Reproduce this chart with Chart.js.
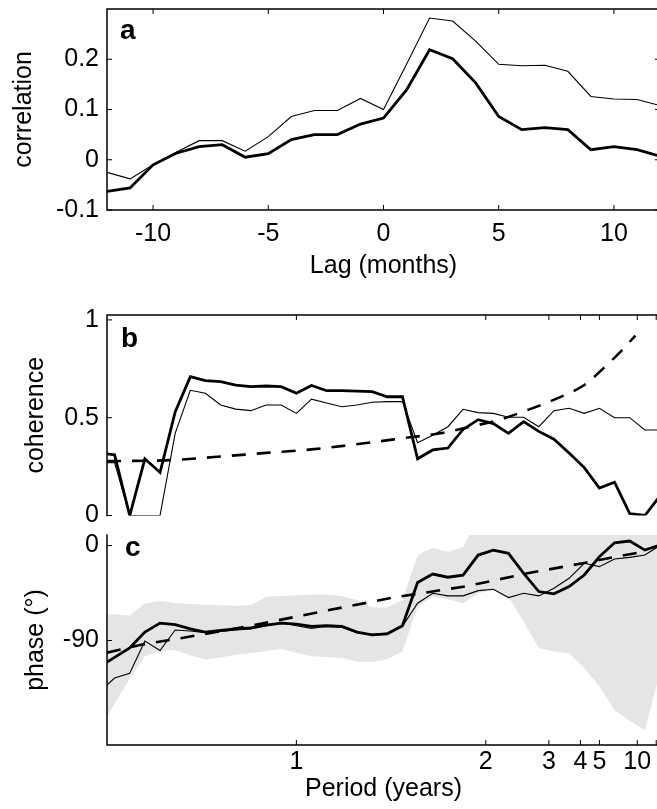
<!DOCTYPE html>
<html>
<head>
<meta charset="utf-8">
<script src="https://cdn.jsdelivr.net/npm/chart.js@4.4.1/dist/chart.umd.min.js"></script>
<style>
  html, body { margin: 0; padding: 0; background: #fff; overflow: hidden; }
  #wrap { position: relative; width: 657px; height: 809px; overflow: hidden; }
  .panel { position: absolute; left: 0; }
  .tag { position: absolute; font: bold 28px "Liberation Sans", Arial, sans-serif; line-height: 28px; color: #000; }
</style>
</head>
<body>
<div id="wrap">
  <canvas class="panel" id="chartA" width="660" height="290" style="top:0px"></canvas>
  <canvas class="panel" id="chartB" width="660" height="250" style="top:285px"></canvas>
  <canvas class="panel" id="chartC" width="660" height="299" style="top:510px"></canvas>
  <div class="tag" style="left:120px;top:16px">a</div>
  <div class="tag" style="left:121px;top:324px">b</div>
  <div class="tag" style="left:125px;top:533px">c</div>
</div>
<script>
// panel a: lagged correlation
const lags = [-12, -11, -10, -9, -8, -7, -6, -5, -4, -3, -2, -1, 0, 1, 2, 3, 4, 5, 6, 7, 8, 9, 10, 11, 12];
const corrThin = [-0.025, -0.038, -0.01, 0.015, 0.038, 0.038, 0.017, 0.046, 0.086, 0.098, 0.098, 0.122, 0.1,
                  0.19, 0.282, 0.276, 0.236, 0.19, 0.187, 0.188, 0.176, 0.126, 0.121, 0.12, 0.108];
const corrThick = [-0.063, -0.056, -0.01, 0.013, 0.026, 0.03, 0.005, 0.012, 0.04, 0.05, 0.05, 0.071, 0.083,
                   0.139, 0.219, 0.201, 0.153, 0.086, 0.06, 0.064, 0.06, 0.02, 0.026, 0.02, 0.007];
const lagTicks = [-10, -5, 0, 5, 10];
const corrTicks = [-0.1, 0, 0.1, 0.2];

// panels b and c: frequency (cycles per year), left to right
const freq = [1.52, 1.48, 1.44, 1.40, 1.36, 1.32, 1.28, 1.24, 1.20, 1.16, 1.12, 1.08, 1.04, 1.00,
              0.96, 0.92, 0.88, 0.84, 0.80, 0.76, 0.72, 0.68, 0.64, 0.60, 0.56, 0.52, 0.48, 0.44,
              0.40, 0.36, 0.32, 0.28, 0.24, 0.20, 0.16, 0.12, 0.08, 0.04];
const cohThick = [0.32, 0.31, 0.0, 0.29, 0.22, 0.53, 0.71, 0.69, 0.684, 0.667, 0.659, 0.662, 0.659, 0.625,
                  0.665, 0.638, 0.638, 0.636, 0.633, 0.607, 0.607, 0.29, 0.335, 0.345, 0.44, 0.49, 0.47, 0.42,
                  0.48, 0.43, 0.39, 0.32, 0.245, 0.14, 0.17, 0.01, 0.0, 0.10];
const cohThin = [0.27, 0.27, 0, 0, 0, 0.42, 0.64, 0.625, 0.565, 0.544, 0.536, 0.565, 0.565, 0.522,
                 0.595, 0.575, 0.556, 0.565, 0.579, 0.582, 0.582, 0.372, 0.41, 0.454, 0.543, 0.526, 0.522, 0.502,
                 0.502, 0.454, 0.536, 0.548, 0.522, 0.548, 0.50, 0.50, 0.437, 0.437];
const cohSigFreq = [1.5, 1.33, 1.21, 1.08, 0.96, 0.81, 0.70, 0.62, 0.54, 0.46, 0.39, 0.31, 0.24, 0.18, 0.14, 0.105];
const cohSig = [0.278, 0.283, 0.30, 0.32, 0.338, 0.372, 0.40, 0.42, 0.454, 0.492, 0.539, 0.60, 0.667, 0.77, 0.845, 0.92];

const phaseThick = [-115, -106, -97, -82, -73.5, -75, -79, -82, -80.5, -79, -78, -75.5, -73.5, -74.5,
                    -76.5, -76, -76.7, -82, -84.6, -83.6, -76, -35, -27, -30, -28, -9, -4.3, -7.4,
                    -26.3, -43.6, -45.8, -38.9, -27.9, -10.6, 2.6, 4.3, -4.3, 0.5];
const phaseThin = [-139, -125.5, -121, -90.5, -99.5, -80, -81, -82.5, -81.5, -80, -79, -76, -73, -76,
                   -78.5, -76.5, -77.5, -82.5, -84, -83, -76.5, -54.6, -45.2, -47.7, -47.7, -42.7, -41.4, -49.3,
                   -45.2, -47.7, -40.5, -31, -16.8, -20, -12.8, -11.2, -9, 0];
const phaseHigh = [-66, -65, -66.5, -55, -52.5, -54.5, -55.5, -56, -56.5, -57, -56.5, -48.5, -47.7, -47,
                   -46.3, -46.5, -47.7, -51.5, -58.4, -58.7, -51.5, -9, -2, -5.8, -1.7, 27, 30, 30,
                   30, 30, 30, 30, 30, 30, 30, 30, 30, 30];
const phaseLow = [-175, -150, -126, -105, -100, -99, -104, -108, -106, -103.5, -102, -100, -98, -101.5,
                  -105, -105.5, -106.6, -110, -110.4, -107.6, -100.4, -57.8, -48.4, -51, -54.7, -45.2, -42, -48.4,
                  -72, -97.2, -100.4, -102, -116, -133.5, -156, -166, -175, -120];
const lagLineFreq = [1.5, 1.41, 1.32, 1.13, 0.92, 0.74, 0.55, 0.39, 0.237, 0.17, 0.1];
const lagLine = [-101.5, -94, -88.7, -76.7, -61.6, -49, -38.5, -26.3, -16.3, -11.5, -7];

const periodTicks = [1, 2, 3, 4, 5, 10, 20];
const periodLabels = ['1', '2', '3', '4', '5', '10', ''];
const cohTicks = [0, 0.5, 1];
const phaseTicks = [-90, 0];

const font = { family: '"Liberation Sans", Arial, sans-serif', size: 25 };
const black = '#000';

const framePlugin = {
    id: 'frame',
    afterDraw(chart, args, opts) {
        const { ctx, chartArea: a } = chart;
        const xs = chart.scales.x, ys = chart.scales.y;
        const sides = opts.sides || [];
        const tl = 5;
        ctx.save();
        ctx.strokeStyle = black;
        ctx.lineWidth = 1;
        ctx.beginPath();
        xs.ticks.forEach(t => {
            const px = xs.getPixelForValue(t.value);
            if (sides.includes('bottom')) { ctx.moveTo(px, a.bottom); ctx.lineTo(px, a.bottom - tl); }
            if (sides.includes('top')) { ctx.moveTo(px, a.top); ctx.lineTo(px, a.top + tl); }
        });
        ys.ticks.forEach(t => {
            const py = ys.getPixelForValue(t.value);
            if (sides.includes('left')) { ctx.moveTo(a.left, py); ctx.lineTo(a.left + tl, py); }
            if (sides.includes('right')) { ctx.moveTo(a.right, py); ctx.lineTo(a.right - tl, py); }
        });
        ctx.stroke();
        ctx.lineWidth = 1.5;
        ctx.lineCap = 'square';
        ctx.beginPath();
        if (sides.includes('left')) { ctx.moveTo(a.left, a.top); ctx.lineTo(a.left, a.bottom); }
        if (sides.includes('right')) { ctx.moveTo(a.right, a.top); ctx.lineTo(a.right, a.bottom); }
        if (sides.includes('top')) { ctx.moveTo(a.left, a.top); ctx.lineTo(a.right, a.top); }
        if (sides.includes('bottom')) { ctx.moveTo(a.left, a.bottom); ctx.lineTo(a.right, a.bottom); }
        ctx.stroke();
        ctx.restore();
    }
};

function yAxis(min, max, tickVals, title, titlePad) {
    return {
        min: min, max: max,
        grid: { display: false, drawTicks: false },
        border: { display: false },
        ticks: { color: black, font: font, padding: 8, autoSkip: false, callback: v => String(v) },
        title: { display: true, text: title, color: black, font: font, padding: { top: titlePad, bottom: 0 } },
        afterBuildTicks: s => { s.ticks = tickVals.map(v => ({ value: v })); },
        afterFit: s => { s.width = 107; s.paddingTop = 0; s.paddingBottom = 0; }
    };
}

function xy(xs, ys) {
    return xs.map((x, i) => ({ x: x, y: ys[i] }));
}

function thick(data) {
    return { data: data, borderColor: black, borderWidth: 2.8, pointRadius: 0, fill: false, order: 0 };
}
function thin(data) {
    return { data: data, borderColor: black, borderWidth: 1.1, pointRadius: 0, fill: false, order: 1 };
}
function dashed(data) {
    return { data: data, borderColor: black, borderWidth: 2.6, borderDash: [14, 11], pointRadius: 0,
             fill: false, order: 0, cubicInterpolationMode: 'monotone' };
}

function baseOptions(padding, sides, scales) {
    return {
        responsive: false,
        animation: false,
        layout: { padding: padding, autoPadding: false },
        plugins: { legend: { display: false }, tooltip: { enabled: false }, frame: { sides: sides } },
        scales: scales
    };
}

// panel a
new Chart(document.getElementById('chartA').getContext('2d'), {
    type: 'line',
    data: { datasets: [thick(xy(lags, corrThick)), thin(xy(lags, corrThin))] },
    options: baseOptions({ top: 9, right: 0, bottom: 0, left: 0 }, ['left', 'bottom', 'top', 'right'], {
        x: {
            type: 'linear', min: -12, max: 12,
            grid: { display: false, drawTicks: false },
            border: { display: false },
            ticks: { color: black, font: font, padding: 9, maxRotation: 0, autoSkip: false },
            title: { display: true, text: 'Lag (months)', color: black, font: font, padding: { top: 0, bottom: 9 } },
            afterBuildTicks: s => { s.ticks = lagTicks.map(v => ({ value: v })); },
            afterFit: s => { s.height = 80; s.paddingLeft = 0; s.paddingRight = 0; }
        },
        y: yAxis(-0.1, 0.3, corrTicks, 'correlation', 9.6)
    }),
    plugins: [framePlugin]
});

function periodAxis(position, showLabels, height, labelPad, titlePad) {
    return {
        type: 'linear', position: position, reverse: true, min: 0.04, max: 1.5,
        grid: { display: false, drawTicks: false },
        border: { display: false },
        ticks: { display: showLabels, color: black, font: font, padding: labelPad, maxRotation: 0, autoSkip: false,
                 callback: (v, i) => periodLabels[i] },
        title: { display: showLabels, text: 'Period (years)', color: black, font: font, padding: { top: 0, bottom: titlePad } },
        afterBuildTicks: s => { s.ticks = periodTicks.map(p => ({ value: 1 / p })); },
        afterFit: s => { s.height = height; s.paddingLeft = 0; s.paddingRight = 0; }
    };
}

// panel b
new Chart(document.getElementById('chartB').getContext('2d'), {
    type: 'line',
    data: { datasets: [thick(xy(freq, cohThick)), thin(xy(freq, cohThin)), dashed(xy(cohSigFreq, cohSig))] },
    options: baseOptions({ top: 30, right: 0, bottom: 19.5, left: 0 }, ['left', 'top'], {
        x: periodAxis('top', false, 0, 0, 0),
        y: yAxis(0, 1.025, cohTicks, 'coherence', 21.3)
    }),
    plugins: [framePlugin]
});

// panel c
new Chart(document.getElementById('chartC').getContext('2d'), {
    type: 'line',
    data: {
        datasets: [
            thick(xy(freq, phaseThick)),
            thin(xy(freq, phaseThin)),
            Object.assign(dashed(xy(lagLineFreq, lagLine)), { cubicInterpolationMode: 'default' }),
            { data: xy(freq, phaseHigh), borderColor: 'rgba(0,0,0,0)', borderWidth: 0, pointRadius: 0,
              backgroundColor: '#e5e5e5', fill: '+1', order: 5 },
            { data: xy(freq, phaseLow), borderColor: 'rgba(0,0,0,0)', borderWidth: 0, pointRadius: 0,
              fill: false, order: 5 }
        ]
    },
    options: baseOptions({ top: 25, right: 0, bottom: 0, left: 0 }, ['left', 'bottom'], {
        x: periodAxis('bottom', true, 64, 2, 5),
        y: yAxis(-189, 10, phaseTicks, 'phase (°)', 21.3)
    }),
    plugins: [framePlugin]
});
</script>
</body>
</html>
